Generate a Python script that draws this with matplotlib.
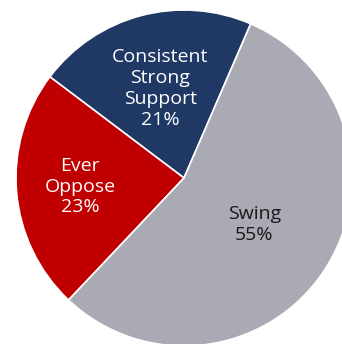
import numpy as np
import matplotlib
matplotlib.use("Agg")
import matplotlib.pyplot as plt

# ── data ──────────────────────────────────────────────────────────────────────
labels = ["Consistent\nStrong\nSupport", "Ever\nOppose", "Swing"]
shares = [21, 23, 55]
colors = ["#1F3864", "#C00000", "#A9AAB4"]
text_colors = ["white", "white", "#1A1A1A"]
label_dist = [0.55, 0.62, 0.50]

# ── figure ────────────────────────────────────────────────────────────────────
W, H = 342, 344
fig = plt.figure(figsize=(W / 100, H / 100), dpi=100)
cx, cy, r = 184, 178, 168
ax = fig.add_axes([(cx - r) / W, (H - cy - r) / H, 2 * r / W, 2 * r / H])

wedges, _ = ax.pie(shares, colors=colors, startangle=66.6, counterclock=True,
                   radius=1.0, wedgeprops=dict(edgecolor="white", linewidth=1.2))
ax.set_xlim(-1, 1)
ax.set_ylim(-1, 1)
ax.set_aspect("equal")
ax.axis("off")

for w, lab, val, tc, d in zip(wedges, labels, shares, text_colors, label_dist):
    mid = np.deg2rad((w.theta1 + w.theta2) / 2)
    ax.text(d * np.cos(mid), d * np.sin(mid), f"{lab}\n{val}%",
            ha="center", va="center", color=tc, fontsize=14,
            family="Open Sans", linespacing=1.2)

fig.savefig("out.png", dpi=100)
